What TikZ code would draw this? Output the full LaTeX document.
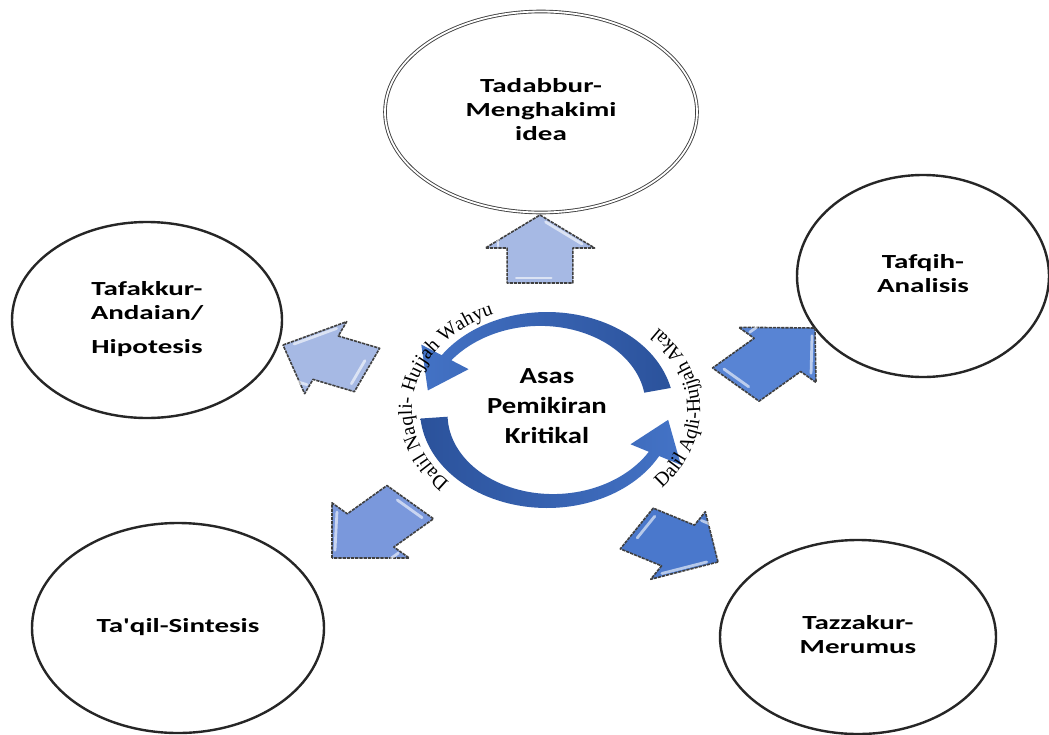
\documentclass[tikz,border=0pt]{standalone}
\usepackage{fontspec}
\usepackage{graphicx}
\usetikzlibrary{shapes.geometric,decorations.text}

\newfontfamily\labelfont{Carlito}
\newfontfamily\arcfont{Liberation Serif}

\definecolor{ringblue}{RGB}{70,118,202}
\definecolor{ringdark}{RGB}{40,78,150}
\definecolor{paleblue}{RGB}{166,185,228}
\definecolor{midblue}{RGB}{122,152,220}
\definecolor{strongblue}{RGB}{88,132,212}
\definecolor{deepblue}{RGB}{74,120,204}
\definecolor{edgegray}{RGB}{64,64,64}

% horizontally widened, centred block of lines
\newcommand\widetext[2]{\scalebox{#1}[1]{\begin{tabular}{@{}c@{}}#2\end{tabular}}}

% block arrow: tip x, tip y, direction, length, head length, fill colour
\newcommand\blockarrow[6]{%
  \begin{scope}[shift={(#1,#2)},xscale=1.4,rotate=#3]
    \filldraw[arrowedge,fill=#6] (0,0) -- (-#5,39) -- (-#5,23.5) -- (-#4,23.5)
      -- (-#4,-23.5) -- (-#5,-23.5) -- (-#5,-39) -- cycle;
    \draw[gloss] (-#5+4,30) -- (-7,4);
    \draw[gloss] (-#4+5,-17) -- (-#4+5,8);
    \draw[gloss] (-#5+2,-30) -- (-#5+9,-30);
  \end{scope}}

\tikzset{
  stage/.style={ellipse, draw=black!85, line width=1.2pt, inner sep=0pt,
    font=\labelfont\bfseries\fontsize{10}{12}\selectfont},
  arrowedge/.style={draw=edgegray, line width=0.8pt, dash pattern=on 1.6pt off 0.5pt, line join=round},
  gloss/.style={white, opacity=0.6, line width=1.4pt, line cap=round},
  arctext/.style={decorate, decoration={text along path, text align=center}},
}

\begin{document}
\begin{tikzpicture}[x=0.5pt,y=-0.5pt]
  \useasboundingbox (0,0) rectangle (1049,734);
  \fill[white] (0,0) rectangle (1049,734);

  % outer stages
  \node[stage, draw=black!75, line width=0.45pt, double, double distance=0.9pt,
        minimum width=156pt, minimum height=100.5pt] (tadabbur) at (541,112)
        {\widetext{1.45}{Tadabbur-\\Menghakimi\\idea}};
  \node[stage, minimum width=135pt, minimum height=98pt] (tafakkur) at (147,320)
        {\widetext{1.45}{Tafakkur-\\Andaian/\\[5pt]Hipotesis}};
  \node[stage, minimum width=126pt, minimum height=101pt] (tafqih) at (923,276)
        {\widetext{1.45}{Tafqih-\\Analisis}};
  \node[stage, minimum width=146pt, minimum height=105pt] (taqil) at (178,628)
        {\widetext{1.45}{Ta'qil-Sintesis}};
  \node[stage, minimum width=138pt, minimum height=97pt] (tazzakur) at (858,637)
        {\widetext{1.45}{Tazzakur-\\Merumus}};

  % circular arrows round the core, darker toward their blunt ends
  \begin{scope}[shift={(547,410)}, xscale=1.296]
    \begin{scope}
      \clip plot[domain=13:146, samples=60] ({98*cos(\x)},{-98*sin(\x)})
        -- ({117*cos(146)},{-117*sin(146)}) -- ({94*cos(168)},{-94*sin(168)})
        -- ({73*cos(146)},{-73*sin(146)})
        -- plot[domain=146:13, samples=60] ({(77+(\x-13)*12/133)*cos(\x)},{-(77+(\x-13)*12/133)*sin(\x)})
        -- cycle;
      \shade[left color=ringblue, right color=ringdark] (-120,-120) rectangle (120,20);
    \end{scope}
    \begin{scope}
      \clip plot[domain=185:332, samples=60] ({98*cos(\x)},{-98*sin(\x)})
        -- ({117*cos(332)},{-117*sin(332)}) -- ({94*cos(354)},{-94*sin(354)})
        -- ({73*cos(332)},{-73*sin(332)})
        -- plot[domain=332:185, samples=60] ({(77+(\x-185)*12/147)*cos(\x)},{-(77+(\x-185)*12/147)*sin(\x)})
        -- cycle;
      \shade[left color=ringdark, right color=ringblue] (-120,-20) rectangle (120,120);
    \end{scope}
  \end{scope}

  \node[font=\labelfont\bfseries\fontsize{11.5}{15}\selectfont] (core) at (547,407)
        {\widetext{1.25}{Asas\\Pemikiran\\Kritikal}};

  % texts following the ring
  \path[arctext, decoration={text={|\arcfont\fontsize{10}{12}\selectfont|Dalil Naqli- Hujjah Wahyu}}]
    (547,410) ++(120:135 and 104) arc[start angle=120, end angle=262, x radius=135, y radius=104];
  \path[arctext, decoration={text={|\arcfont\fontsize{10}{12}\selectfont|Dalil Aqli-Hujjah Akal}}]
    (547,410) ++(60:153 and 119) arc[start angle=60, end angle=-62, x radius=153, y radius=119];

  % block arrows pointing out to the stages
  \blockarrow{540}{215}{90}{68}{33}{paleblue}
  \blockarrow{283}{345}{157.4}{65}{33}{paleblue}
  \blockarrow{815}{328}{45}{80}{38}{strongblue}
  \blockarrow{332}{558}{225}{79}{39}{midblue}
  \blockarrow{718}{562}{-30}{67}{33}{deepblue}
\end{tikzpicture}
\end{document}
